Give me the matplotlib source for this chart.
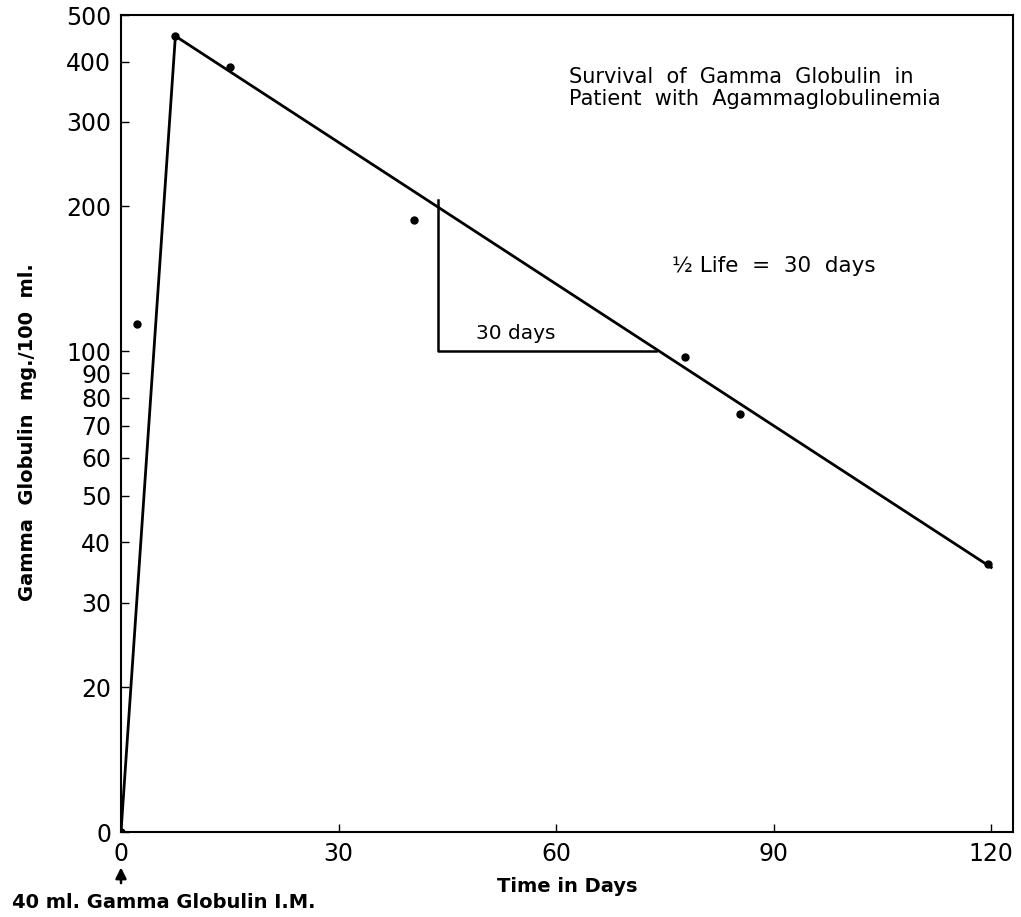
import numpy as np
import matplotlib.pyplot as plt

# Datos
dias = [0, 2.2, 7.5, 15.0, 40.4, 77.8, 85.4, 119.5]
globulina = [10, 114, 452, 389, 187, 97, 74, 36]

# Línea ajustada (subida y decaimiento)
linea_x = [0, 7.5, 120]
linea_y = [10, 452, 35.5]

# Triángulo de vida media
tri_x = [43.7, 43.7, 73.8]
tri_y = [206, 100, 100]

yticks = [10, 20, 30, 40, 50, 60, 70, 80, 90, 100, 200, 300, 400, 500]
yticklabels = ['0', '20', '30', '40', '50', '60', '70', '80', '90', '100', '200', '300', '400', '500']
xticks = [0, 30, 60, 90, 120]

plt.rcParams['font.family'] = ['DejaVu Sans']

fig = plt.figure(figsize=(10.21, 9.17), dpi=100)
ax = fig.add_axes([121/1021, 85/917, 892/1021, 817/917])

ax.plot(linea_x, linea_y, color='black', linewidth=2.0)
ax.plot(tri_x, tri_y, color='black', linewidth=1.8)
ax.plot(dias, globulina, 'o', color='black', markersize=5)

ax.set_yscale('log')
ax.set_ylim(10, 500)
ax.set_xlim(0, 123)
ax.set_yticks(yticks)
ax.set_yticklabels(yticklabels)
ax.yaxis.set_minor_locator(plt.NullLocator())
ax.set_xticks(xticks)
ax.tick_params(direction='in', length=6, width=1, labelsize=17, pad=7)

for s in ax.spines.values():
    s.set_linewidth(1.5)

ax.text(54.5, 109, '30 days', fontsize=14.5, ha='center', va='center')
ax.text(76, 150, '½ Life  =  30  days', fontsize=15.5, ha='left', va='center')
ax.text(61.8, 352, 'Survival  of  Gamma  Globulin  in\nPatient  with  Agammaglobulinemia',
        fontsize=15, ha='left', va='center', linespacing=1.15)

ax.set_xlabel('Time in Days', fontsize=14, fontweight='bold', labelpad=8)
ax.set_ylabel('Gamma  Globulin  mg./100  ml.', fontsize=14, fontweight='bold')
ax.yaxis.set_label_coords(-0.094, 0.49)

ax.annotate('', xy=(0, -0.040), xycoords=('data', 'axes fraction'),
            xytext=(0, -0.066), textcoords=('data', 'axes fraction'),
            arrowprops=dict(arrowstyle='-|>', color='black', lw=1.8, mutation_scale=16),
            annotation_clip=False)
fig.text(12/1021, 1 - 902/917, '40 ml. Gamma Globulin I.M.', fontsize=14,
         fontweight='bold', ha='left', va='center')

fig.savefig('out.png', dpi=100)
